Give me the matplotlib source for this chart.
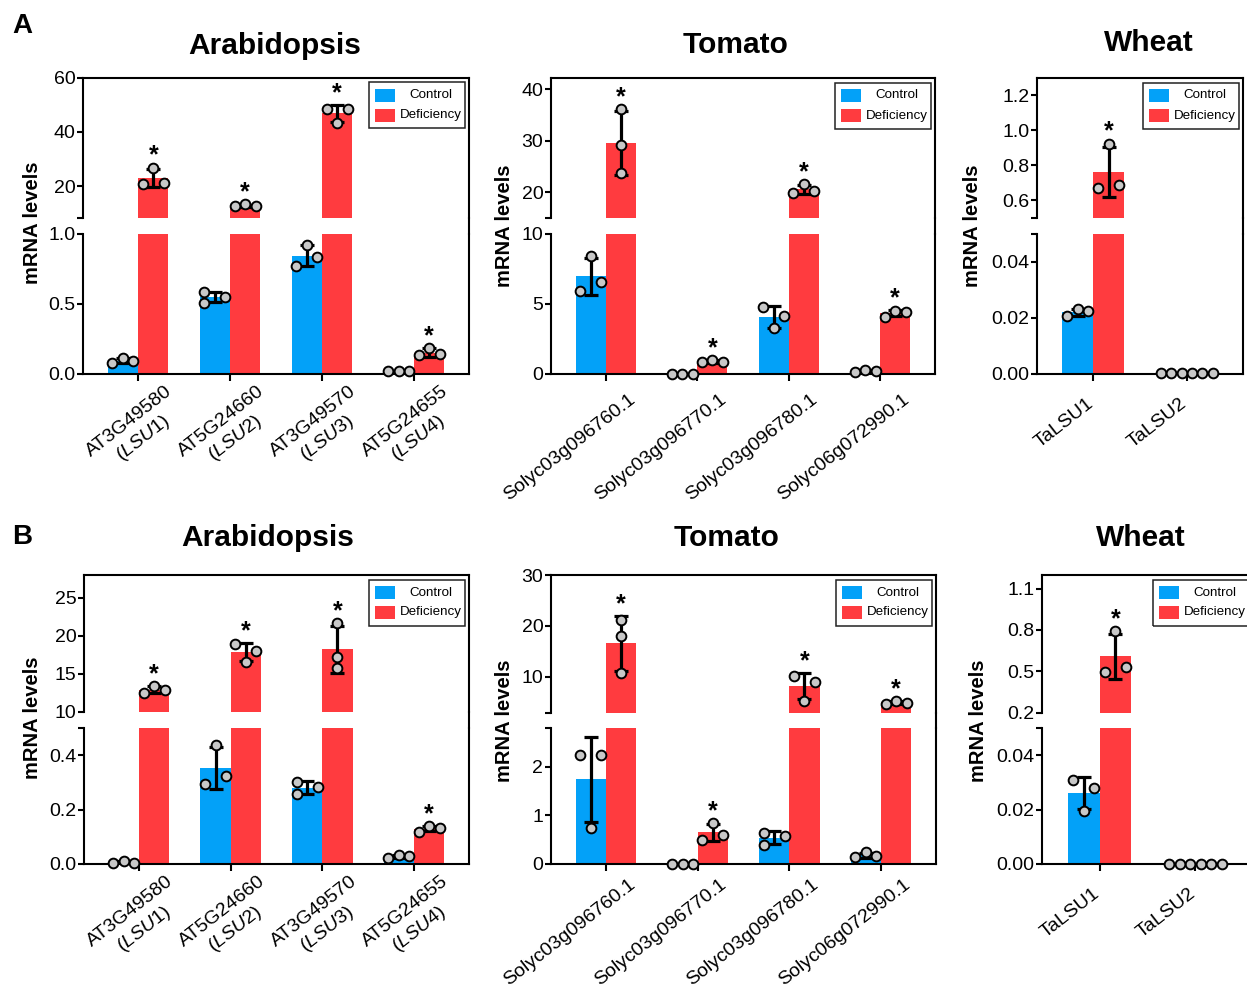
import numpy as np
import matplotlib
matplotlib.use('Agg')
import matplotlib.pyplot as plt
from matplotlib.lines import Line2D
from matplotlib.patches import Rectangle
from matplotlib.transforms import ScaledTranslation

plt.rcParams['font.family'] = 'Liberation Sans'
plt.rcParams['mathtext.fontset'] = 'custom'
plt.rcParams['mathtext.rm'] = 'Liberation Sans'
plt.rcParams['mathtext.it'] = 'Liberation Sans:italic'

# ---- data (three replicates per bar, replicate order) ----
ara_genes = ['AT3G49580', 'AT5G24660', 'AT3G49570', 'AT5G24655']
ara_lsu = ['LSU1', 'LSU2', 'LSU3', 'LSU4']
tom_genes = ['Solyc03g096760.1', 'Solyc03g096770.1', 'Solyc03g096780.1', 'Solyc06g072990.1']
wht_genes = ['TaLSU1', 'TaLSU2']

A_ara_ctrl = [[0.076, 0.088, 0.11], [0.505, 0.55, 0.58], [0.77, 0.83, 0.92], [0.015, 0.018, 0.016]]
A_ara_def = [[20.9, 21.2, 26.8], [12.5, 12.5, 13.2], [48.5, 48.5, 43.3], [0.129, 0.138, 0.183]]
A_tom_ctrl = [[5.93, 6.57, 8.43], [0.01, 0.02, 0.015], [4.80, 4.12, 3.26], [0.17, 0.24, 0.31]]
A_tom_def = [[36.1, 29.1, 23.7], [0.83, 0.83, 1.0], [19.85, 20.2, 21.6], [4.1, 4.4, 4.5]]
A_wht_ctrl = [[0.0205, 0.0224, 0.023], [0.0001, 0.0001, 0.0001]]
A_wht_def = [[0.667, 0.686, 0.924], [0.0001, 0.0001, 0.0001]]

B_ara_ctrl = [[0.005, 0.005, 0.011], [0.295, 0.325, 0.439], [0.257, 0.282, 0.303], [0.023, 0.030, 0.033]]
B_ara_def = [[12.54, 12.94, 13.38], [19.0, 18.0, 16.6], [21.7, 17.2, 15.8], [0.119, 0.132, 0.138]]
B_tom_ctrl = [[2.25, 2.25, 0.74], [0.004, 0.006, 0.005], [0.385, 0.584, 0.64], [0.137, 0.158, 0.24]]
B_tom_def = [[21.1, 18.0, 10.66], [0.50, 0.605, 0.845], [10.2, 9.0, 5.28], [4.75, 4.95, 5.2]]
B_wht_ctrl = [[0.031, 0.028, 0.0194], [0.0001, 0.0001, 0.0001]]
B_wht_def = [[0.493, 0.534, 0.795], [0.0001, 0.0001, 0.0001]]

ara_sig = [1, 1, 1, 1]
tom_sig = [1, 1, 1, 1]
wht_sig = [1, 0]

A_ara_up_ticks, A_ara_lo_ticks = ['20', '40', '60'], ['0.0', '0.5', '1.0']
A_tom_up_ticks, A_tom_lo_ticks = ['20', '30', '40'], ['0', '5', '10']
A_wht_up_ticks, A_wht_lo_ticks = ['0.6', '0.8', '1.0', '1.2'], ['0.00', '0.02', '0.04']
B_ara_up_ticks, B_ara_lo_ticks = ['10', '15', '20', '25'], ['0.0', '0.2', '0.4']
B_tom_up_ticks, B_tom_lo_ticks = ['10', '20', '30'], ['0', '1', '2']
B_wht_up_ticks, B_wht_lo_ticks = ['0.2', '0.5', '0.8', '1.1'], ['0.00', '0.02', '0.04']

ara_labels = [f'{g}\n(${{\\mathit{{{s}}}}}$)' for g, s in zip(ara_genes, ara_lsu)]

# ---- layout ----
W, H = 1247, 989
fig = plt.figure(figsize=(W / 100, H / 100), dpi=100)

CTRL = '#03A1F8'
DEF = '#FF3B3F'
DOT = '#C8C8C8'
BW = 0.33


def rect(l, t, r, b):
    return [l / W, 1 - b / H, (r - l) / W, (b - t) / H]


def swarm(ys, d=10.5, thr=9.9):
    n = len(ys)
    iso = [all(abs(ys[i] - ys[j]) >= thr for j in range(n) if j != i) for i in range(n)]
    slots = [0] * n
    placed = [(0, ys[i]) for i in range(n) if iso[i]]
    for i in range(n):
        if iso[i]:
            continue
        for s in (-1, 1, 0, -2, 2):
            if all(np.hypot((s - ps) * d, ys[i] - py) >= thr for ps, py in placed):
                break
        slots[i] = s
        placed.append((s, ys[i]))
    return slots


def style_axis(ax, ticks, lim, extra):
    vals = [float(t) for t in ticks]
    allv = vals + [e for e in extra if e not in vals]
    labs = ticks + [''] * (len(allv) - len(vals))
    ax.set_yticks(allv)
    ax.set_yticklabels(labs)
    ax.tick_params(axis='y', direction='out', length=4, width=1.5, labelsize=14, pad=1.5)
    for s in ax.spines.values():
        s.set_linewidth(1.5)


def panel(box, genes, xlabels, ctrl, defi, sig, up_lim, lo_lim, up_ticks, lo_ticks,
          title, title_xy, ylab_xy, lab_off):
    l, r, ut, ub, lt, lb = box
    n = len(genes)
    x = np.arange(n)
    xlim = (-0.6, n - 0.4)
    ax_u = fig.add_axes(rect(l, ut, r, ub))
    ax_l = fig.add_axes(rect(l, lt, r, lb))

    def pick(v):
        return ax_l if v <= lo_lim[1] else ax_u

    def ypx(v):
        if v <= lo_lim[1]:
            return lb - (v - lo_lim[0]) / (lo_lim[1] - lo_lim[0]) * (lb - lt)
        return ub - (v - up_lim[0]) / (up_lim[1] - up_lim[0]) * (ub - ut)

    dx = 10.5 / ((r - l) / (xlim[1] - xlim[0]))
    mc = [np.mean(v) for v in ctrl]
    md = [np.mean(v) for v in defi]
    sc = [np.std(v, ddof=1) for v in ctrl]
    sd = [np.std(v, ddof=1) for v in defi]

    for ax, lim in ((ax_u, up_lim), (ax_l, lo_lim)):
        ax.set_xlim(*xlim)
        ax.set_ylim(*lim)
        ax.bar(x - BW / 2, mc, BW, color=CTRL, zorder=2)
        ax.bar(x + BW / 2, md, BW, color=DEF, zorder=2)

    # error bars (SD), drawn in the axis that holds the mean
    for means, sds, xs in ((mc, sc, x - BW / 2), (md, sd, x + BW / 2)):
        for xc, m, s in zip(xs, means, sds):
            pick(m).errorbar(xc, m, yerr=s, fmt='none', ecolor='k', elinewidth=2.3,
                             capsize=4.8, capthick=2.3, zorder=3)

    ax_u.spines['bottom'].set_visible(False)
    ax_l.spines['top'].set_visible(False)
    ax_u.set_xticks([])
    ax_l.set_xticks(x)
    ax_l.set_xticklabels([])
    ax_l.tick_params(axis='x', direction='out', length=5, width=1.5)
    style_axis(ax_u, up_ticks, up_lim, [up_lim[0]])
    style_axis(ax_l, lo_ticks, lo_lim, [lo_lim[1]])
    fig.add_artist(Line2D([r / W, r / W], [1 - ub / H, 1 - lt / H], color='k', lw=1.5,
                          transform=fig.transFigure))

    # replicate dots
    for groups, xs in ((ctrl, x - BW / 2), (defi, x + BW / 2)):
        for xc, vals in zip(xs, groups):
            slots = swarm([ypx(v) for v in vals])
            for v, s in zip(vals, slots):
                pick(v).plot(xc + s * dx, v, 'o', ms=7.0, mfc=DOT, mec='k', mew=1.4,
                             clip_on=False, zorder=5)

    # significance stars
    for i in range(n):
        if not sig[i]:
            continue
        top = max(max(defi[i]), md[i] + sd[i])
        pick(top).annotate('*', (x[i] + BW / 2, top), xytext=(0, 3.5),
                           textcoords='offset points', ha='center', va='baseline',
                           fontsize=18, fontweight='bold', annotation_clip=False)

    # x labels
    off = ScaledTranslation(lab_off[0] / 100, -lab_off[1] / 100, fig.dpi_scale_trans)
    for i, t in enumerate(xlabels):
        ax_l.text(x[i], 0, t, transform=ax_l.get_xaxis_transform() + off, rotation=38,
                  rotation_mode='anchor', ha='right', va='top', multialignment='center',
                  fontsize=14, clip_on=False)

    # legend
    bl, bt = r - 4 - 96, ut + 5
    fig.add_artist(Rectangle((bl / W, 1 - (bt + 46) / H), 96 / W, 46 / H, fill=False,
                             ec='#222222', lw=1.1, transform=fig.transFigure))
    for k, (c, name) in enumerate(((CTRL, 'Control'), (DEF, 'Deficiency'))):
        pt = bt + 6 + 20 * k
        fig.add_artist(Rectangle(((bl + 6) / W, 1 - (pt + 13) / H), 20 / W, 13 / H,
                                 color=c, lw=0, transform=fig.transFigure))
        fig.text((bl + 62) / W, 1 - (pt + 6.5) / H, name, ha='center', va='center',
                 fontsize=9.6)

    fig.text(title_xy[0] / W, 1 - title_xy[1] / H, title, ha='center', va='baseline',
             fontsize=21.5, fontweight='bold')
    fig.text(ylab_xy[0] / W, 1 - ylab_xy[1] / H, 'mRNA levels', rotation=90,
             ha='center', va='center', fontsize=14.5, fontweight='bold')


panel((83, 469, 77.5, 217.5, 233.5, 373.5), ara_genes, ara_labels, A_ara_ctrl, A_ara_def,
      ara_sig, (8.4, 60), (0, 1.0), A_ara_up_ticks, A_ara_lo_ticks,
      'Arabidopsis', (274.5, 54), (32, 223), (27, 9))
panel((551, 935, 78, 218, 234, 374), tom_genes, tom_genes, A_tom_ctrl, A_tom_def,
      tom_sig, (15, 42.2), (0, 10), A_tom_up_ticks, A_tom_lo_ticks,
      'Tomato', (735.5, 53), (504, 226), (22, 17))
panel((1037, 1243, 78, 217.5, 234, 373.5), wht_genes, wht_genes, A_wht_ctrl, A_wht_def,
      wht_sig, (0.5, 1.3), (0, 0.05), A_wht_up_ticks, A_wht_lo_ticks,
      'Wheat', (1149, 51), (972, 226), (-7, 21))

panel((84, 469, 575, 712, 728, 864), ara_genes, ara_labels, B_ara_ctrl, B_ara_def,
      ara_sig, (10, 28), (0, 0.5), B_ara_up_ticks, B_ara_lo_ticks,
      'Arabidopsis', (267.5, 546), (32, 718), (27, 9))
panel((551, 936, 575, 712.5, 728, 864), tom_genes, tom_genes, B_tom_ctrl, B_tom_def,
      tom_sig, (3, 30), (0, 2.8), B_tom_up_ticks, B_tom_lo_ticks,
      'Tomato', (727, 546), (505, 721), (22, 12))
panel((1042, 1253, 575, 712.5, 728, 864), wht_genes, wht_genes, B_wht_ctrl, B_wht_def,
      wht_sig, (0.2, 1.2), (0, 0.05), B_wht_up_ticks, B_wht_lo_ticks,
      'Wheat', (1141, 546), (979, 721), (-7, 21))

fig.text(12 / W, 1 - 33 / H, 'A', fontsize=20, fontweight='bold', va='baseline')
fig.text(12 / W, 1 - 544 / H, 'B', fontsize=20, fontweight='bold', va='baseline')

fig.savefig('out.png', dpi=100)
